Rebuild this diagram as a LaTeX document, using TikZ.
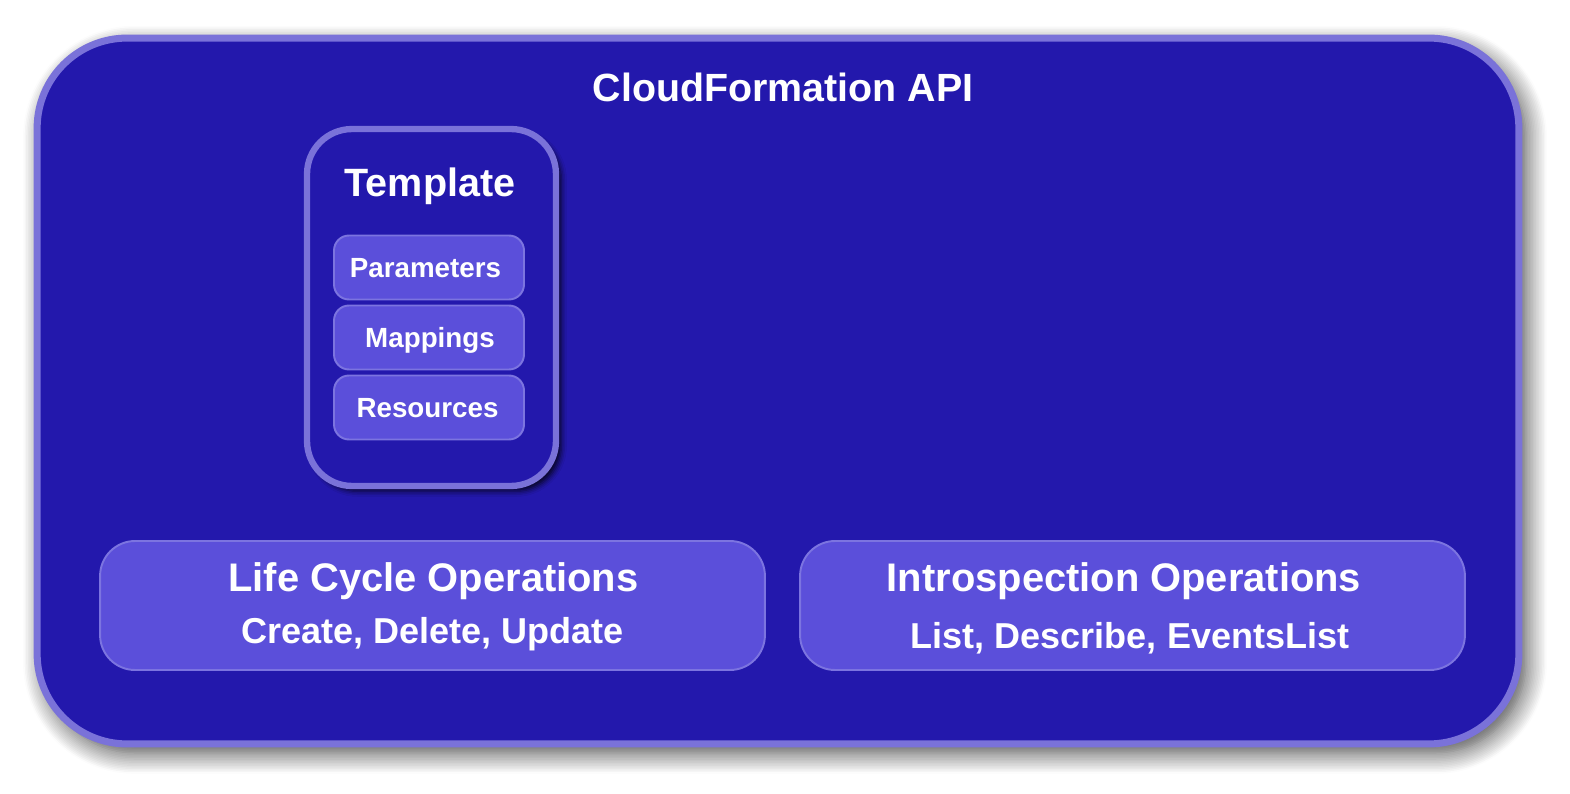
\documentclass[tikz,border=0pt]{standalone}
\usepackage{fontspec}
\setmainfont{Liberation Sans}
\usepackage{tikz}
\usetikzlibrary{shadows.blur}

\definecolor{apiblue}{HTML}{2318AC}
\definecolor{apirim}{HTML}{7A72D9}
\definecolor{partfill}{HTML}{5B4FDA}
\definecolor{partrim}{HTML}{7C74E0}

\tikzset{
  panel/.style={draw=apirim, fill=apiblue, inner sep=0pt},
  part/.style={draw=partrim, fill=partfill, line width=1.1pt, rounded corners=0.3cm,
    inner sep=0pt},
  label/.style={text=white, font=\bfseries, anchor=base, inner sep=0pt}
}

\begin{document}
\begin{tikzpicture}[x=0.02cm,y=-0.02cm]
      \useasboundingbox (0,0) rectangle (1570,794);
      % outer api box
      \node[panel, line width=4pt, rounded corners=1.8cm,
        minimum width=29.64cm, minimum height=14.12cm,
        blur shadow={shadow xshift=4pt, shadow yshift=-5pt, shadow blur radius=12pt,
          shadow blur steps=14, shadow opacity=75}]
        (api) at (778,391) {};
      \node[label, font=\bfseries\fontsize{22.4}{26}\selectfont] (apititle) at (783,102) {CloudFormation API};

      % template
      \node[panel, line width=3.6pt, rounded corners=0.9cm,
        minimum width=4.98cm, minimum height=7.14cm,
        blur shadow={shadow xshift=3pt, shadow yshift=-3pt, shadow blur radius=3pt, shadow opacity=80}]
        (template) at (431.5,307.5) {};
      \node[label, font=\bfseries\fontsize{22.5}{26}\selectfont] (templatetitle) at (430,196) {Template};
      \node[part, minimum width=3.8cm, minimum height=1.28cm] (parameters) at (429,267.5) {};
      \node[part, minimum width=3.8cm, minimum height=1.28cm] (mappings) at (429,337.5) {};
      \node[part, minimum width=3.8cm, minimum height=1.28cm] (resources) at (429,407.5) {};
      \node[label, font=\bfseries\fontsize{15.8}{18}\selectfont] (parameterstext) at (425.5,277) {Parameters};
      \node[label, font=\bfseries\fontsize{15.8}{18}\selectfont] (mappingstext) at (430,347) {Mappings};
      \node[label, font=\bfseries\fontsize{15.8}{18}\selectfont] (resourcestext) at (427.5,417) {Resources};

      % operations
      \node[part, rounded corners=0.7cm, minimum width=13.3cm, minimum height=2.58cm] (lifecycle) at (432.5,605.5) {};
      \node[part, rounded corners=0.7cm, minimum width=13.3cm, minimum height=2.58cm] (introspection) at (1132.5,605.5) {};
      \node[label, font=\bfseries\fontsize{22.7}{26}\selectfont] (lifecycletitle) at (433.5,591) {Life Cycle Operations};
      \node[label, font=\bfseries\fontsize{20.5}{24}\selectfont] (lifecycleops) at (432.5,643) {Create, Delete, Update};
      \node[label, font=\bfseries\fontsize{22.7}{26}\selectfont] (introspectiontitle) at (1124,591) {Introspection Operations};
      \node[label, font=\bfseries\fontsize{20.5}{24}\selectfont] (introspectionops) at (1130,648) {List, Describe, EventsList};
    \end{tikzpicture}
\end{document}
